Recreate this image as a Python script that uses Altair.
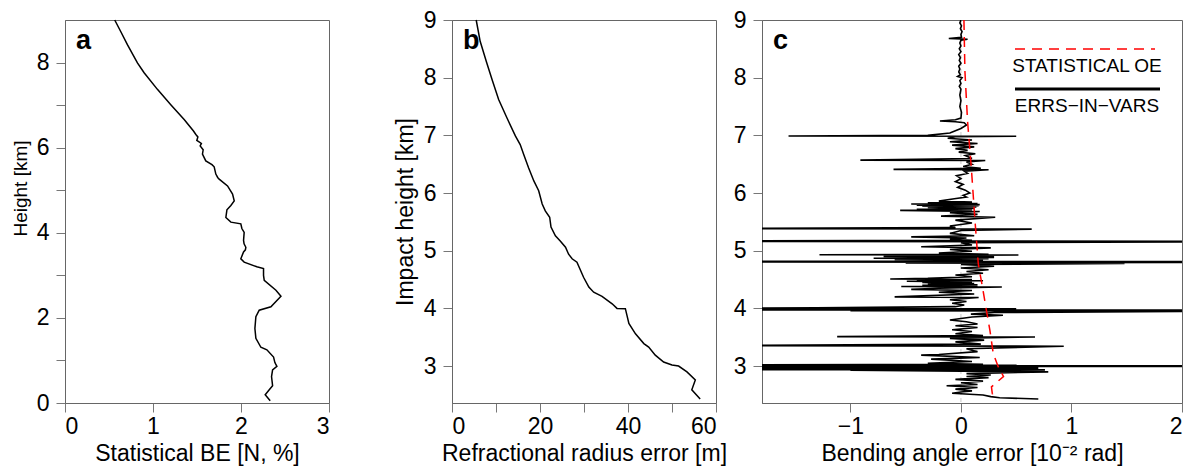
import altair as alt
import pandas as pd

FONT = "Liberation Sans"

# ---------------- Panel a: statistical background error ----------------
a_height = [0.055, 0.195, 0.31, 0.405, 0.62, 0.78, 0.86, 0.95, 1.08, 1.25, 1.31, 1.52,
            1.75, 2.03, 2.18, 2.26, 2.51, 2.65, 2.88, 3.0, 3.16, 3.2, 3.31, 3.39, 3.55,
            3.6, 3.66, 3.74, 3.82, 4.01, 4.1, 4.21, 4.25, 4.36, 4.54, 4.64, 4.75, 4.91,
            5.1, 5.26, 5.3, 5.38, 5.55, 5.6, 5.69, 5.85, 5.95, 6.04, 6.1, 6.17, 6.25,
            6.31, 6.39, 6.66, 7.01, 7.37, 7.76, 7.99, 8.42, 8.73, 9.0]
a_be = [2.332, 2.275, 2.321, 2.359, 2.347, 2.359, 2.408, 2.385, 2.37, 2.294, 2.226, 2.169,
        2.158, 2.169, 2.207, 2.34, 2.454, 2.397, 2.264, 2.256, 2.256, 2.18, 2.036, 1.998,
        2.029, 2.05, 2.055, 2.035, 2.029, 2.036, 2.01, 1.998, 1.885, 1.828, 1.84, 1.885,
        1.923, 1.904, 1.847, 1.752, 1.735, 1.714, 1.695, 1.67, 1.6, 1.562, 1.57, 1.536,
        1.55, 1.498, 1.51, 1.487, 1.46, 1.354, 1.202, 1.05, 0.899, 0.823, 0.709, 0.633, 0.565]

# ---------------- Panel b: refractional radius error ----------------
b_height = [2.43, 2.59, 2.76, 2.90, 3.0, 3.02, 3.07, 3.19, 3.33, 3.39, 3.56, 3.74, 3.995,
            4.0, 4.08, 4.21, 4.28, 4.37, 4.54, 4.80, 4.86, 4.94, 5.06, 5.17, 5.26, 5.41,
            5.58, 5.69, 5.81, 6.04, 6.21, 6.44, 6.67, 6.84, 6.99, 7.30, 7.62, 7.97, 8.28,
            8.63, 9.0]
b_err = [56.4, 54.5, 55.3, 53.4, 51.5, 50.0, 48.1, 46.2, 44.7, 43.6, 41.7, 40.2, 39.4,
         37.5, 36.4, 34.1, 32.2, 31.1, 29.9, 28.4, 27.3, 26.5, 25.8, 24.6, 23.5, 22.5,
         22.2, 21.2, 20.5, 19.7, 18.6, 17.4, 16.3, 15.5, 14.4, 12.5, 10.6, 9.1, 7.8,
         6.4, 5.5]

# ---------------- Panel c: bending angle error (errors-in-variables) ----------------
c_height = [
    9.0, 8.95, 8.9, 8.85, 8.8, 8.75, 8.70, 8.68, 8.665, 8.65,
    8.6, 8.55, 8.5, 8.45, 8.4, 8.35, 8.3, 8.25, 8.2, 8.15,
    8.1, 8.05, 8.02, 8.0, 7.95, 7.9, 7.85, 7.8, 7.7, 7.6,
    7.5, 7.4, 7.3, 7.27, 7.25, 7.235, 7.22, 7.18, 7.12, 7.08,
    7.04, 7.0, 6.99, 6.985, 6.975, 6.95, 6.92, 6.89, 6.86, 6.83,
    6.8, 6.77, 6.74, 6.71, 6.68, 6.65, 6.6, 6.57, 6.565, 6.54,
    6.5, 6.46, 6.43, 6.41, 6.405, 6.38, 6.34, 6.3, 6.25, 6.2,
    6.15, 6.1, 6.05, 6.0, 5.96, 5.93, 5.9, 5.86, 5.845, 5.83,
    5.82, 5.81, 5.8, 5.79, 5.78, 5.77, 5.76, 5.75, 5.735, 5.72,
    5.71, 5.70, 5.68, 5.66, 5.63, 5.6, 5.58, 5.53, 5.48, 5.43,
    5.40, 5.385, 5.375, 5.35, 5.3, 5.26, 5.24, 5.22, 5.2, 5.18,
    5.17, 5.165, 5.16, 5.155, 5.14, 5.1, 5.07, 5.05, 5.02, 4.99,
    4.96, 4.94, 4.93, 4.925, 4.915, 4.91, 4.9, 4.885, 4.87, 4.86,
    4.85, 4.84, 4.83, 4.82, 4.815, 4.81, 4.805, 4.8, 4.79, 4.78,
    4.76, 4.73, 4.7, 4.67, 4.64, 4.61, 4.58, 4.55, 4.52, 4.51,
    4.5, 4.49, 4.48, 4.47, 4.46, 4.45, 4.43, 4.42, 4.41, 4.40,
    4.39, 4.38, 4.37, 4.35, 4.33, 4.31, 4.28, 4.25, 4.2, 4.19,
    4.15, 4.12, 4.09, 4.06, 4.03, 4.01, 4.0, 3.995, 3.99, 3.985,
    3.975, 3.97, 3.96, 3.95, 3.93, 3.9, 3.88, 3.85, 3.8, 3.77,
    3.73, 3.7, 3.67, 3.63, 3.6, 3.56, 3.53, 3.51, 3.505, 3.48,
    3.45, 3.42, 3.38, 3.355, 3.345, 3.3, 3.25, 3.2, 3.19, 3.15,
    3.12, 3.08, 3.05, 3.03, 3.02, 3.015, 3.01, 3.005, 3.0, 2.995,
    2.99, 2.985, 2.98, 2.975, 2.97, 2.965, 2.96, 2.955, 2.95, 2.945,
    2.94, 2.935, 2.93, 2.9, 2.87, 2.845, 2.82, 2.8, 2.77, 2.74,
    2.71, 2.68, 2.66, 2.63, 2.6, 2.57, 2.55, 2.53, 2.5, 2.47,
    2.45, 2.43,
]
c_err = [
    0.0, -0.01, 0.005, -0.005, 0.01, 0.0, 0.005, -0.11, 0.06, 0.0,
    -0.01, 0.0, -0.015, 0.0, -0.02, -0.005, -0.015, 0.0, -0.02, -0.01,
    -0.02, -0.005, -0.03, 0.01, -0.01, 0.0, -0.015, 0.0, -0.01, 0.0,
    -0.01, 0.005, 0.0, -0.05, -0.19, -0.05, 0.03, 0.05, 0.0, -0.05,
    -0.1, -0.3, -1.56, 0.5, -0.05, -0.12, 0.1, -0.1, 0.15, -0.08,
    0.12, -0.05, 0.06, -0.02, 0.13, 0.04, 0.1, -0.91, 0.22, 0.05,
    0.1, 0.02, 0.18, -0.61, 0.25, 0.03, 0.06, -0.04, 0.0, -0.05,
    0.02, -0.03, 0.04, 0.08, 0.02, 0.05, -0.06, -0.2, 0.1, -0.3,
    0.15, -0.45, 0.17, -0.4, 0.16, -0.35, 0.14, -0.3, 0.12, -0.4,
    0.1, -0.55, 0.17, -0.1, 0.15, -0.18, 0.31, -0.05, 0.1, -0.1,
    -0.05, -2.2, 0.64, 0.0, -0.1, 0.12, -0.45, 0.05, -0.1, 0.1,
    -2.2, 2.5, -2.2, 2.3, 0.0, 0.1, -0.36, 0.27, -0.1, 0.1,
    -0.2, 0.25, -1.28, 0.52, -0.5, 0.3, -0.7, 0.3, -0.79, 0.25,
    -0.6, 0.2, -0.5, 0.2, -2.2, 2.5, -2.2, 2.5, -0.5, 1.48,
    0.0, 0.3, 0.0, 0.25, 0.05, 0.2, -0.05, 0.1, -0.3, -0.64,
    0.1, -0.4, 0.2, -0.49, 0.1, -0.35, 0.12, -0.3, 0.15, -0.35,
    0.15, -0.54, 0.37, -0.2, -0.45, 0.1, -0.2, 0.12, -0.6, 0.16,
    -0.1, 0.05, -0.08, 0.03, -0.05, -1.31, -2.2, 0.5, -2.2, -1.3,
    -2.2, 2.5, -1.0, 2.5, 0.3, 0.09, 0.38, 0.1, -0.1, 0.05,
    0.15, -0.05, 0.15, -0.08, 0.1, -0.05, 0.2, -1.12, 0.67, -0.1,
    0.21, -0.05, 0.18, -2.2, 0.93, 0.05, 0.15, -0.2, -0.36, 0.17,
    -0.27, 0.1, -0.3, 0.2, -2.2, 0.5, -2.2, 2.5, -2.2, 2.5,
    -2.2, 0.6, -2.2, 0.7, -2.2, 0.6, -2.2, 0.7, -2.2, 0.65,
    -2.2, 0.76, -1.0, 0.79, 0.05, 0.27, 0.05, 0.25, -0.05, 0.2,
    0.0, 0.15, -0.13, 0.15, -0.05, 0.1, 0.0, -0.08, 0.2, 0.27,
    0.35, 0.70,
]

# ---------------- Panel c: statistical observation error ----------------
oe_height = [9.0, 8.11, 7.24, 6.38, 5.52, 4.77, 4.31, 3.97, 3.62, 3.22, 2.99, 2.82, 2.64,
             2.53, 2.41]
oe_err = [0.027, 0.036, 0.06, 0.096, 0.127, 0.157, 0.2, 0.23, 0.262, 0.292, 0.337, 0.385,
          0.276, 0.283, 0.30]

legend_labels = ["STATISTICAL OE", "ERRS\u2212IN\u2212VARS"]
panel_letters = ["a", "b", "c"]

H = 383
FS = 23
one = pd.DataFrame({"k": [0]})


def letter(t):
    return alt.Chart(pd.DataFrame({"t": [t]})).mark_text(
        font=FONT, fontSize=27, fontWeight="bold", align="left", baseline="alphabetic",
        color="black"
    ).encode(x=alt.value(11), y=alt.value(29), text="t:N")


# ---- panel a
df_a = pd.DataFrame({"v": a_be, "h": a_height, "i": range(len(a_be))})
line_a = alt.Chart(df_a).mark_line(color="black", strokeWidth=1.5).encode(
    x=alt.X("v:Q", scale=alt.Scale(domain=[0, 3], nice=False, zero=False),
            axis=alt.Axis(values=[0, 1, 2, 3], title="Statistical BE [N, %]")),
    y=alt.Y("h:Q", scale=alt.Scale(domain=[0, 9], nice=False),
            axis=alt.Axis(values=list(range(9)),
                          labelExpr="datum.value % 2 == 0 ? datum.label : ''",
                          title="Height [km]", titleFontSize=19, titleY=168)),
    order="i:Q",
)
pa = alt.layer(line_a, letter(panel_letters[0])).properties(width=264, height=H)

# ---- panel b
df_b = pd.DataFrame({"v": b_err, "h": b_height, "i": range(len(b_err))})
line_b = alt.Chart(df_b).mark_line(color="black", strokeWidth=1.5).encode(
    x=alt.X("v:Q", scale=alt.Scale(domain=[0, 60], nice=False),
            axis=alt.Axis(values=[0, 10, 20, 30, 40, 50, 60],
                          labelExpr="datum.value % 20 == 0 ? datum.label : ''",
                          title="Refractional radius error [m]")),
    y=alt.Y("h:Q", scale=alt.Scale(domain=[2.36, 9], nice=False, zero=False),
            axis=alt.Axis(values=[3, 4, 5, 6, 7, 8, 9], format="d",
                          title="Impact height [km]")),
    order="i:Q",
)
pb = alt.layer(line_b, letter(panel_letters[1])).properties(width=264, height=H)

# ---- panel c
df_c = pd.DataFrame({"v": c_err, "h": c_height, "i": range(len(c_err))})
df_oe = pd.DataFrame({"v": oe_err, "h": oe_height, "i": range(len(oe_err))})
xc = alt.X("v:Q", scale=alt.Scale(domain=[-1.8, 2], nice=False),
           axis=alt.Axis(values=[-1, 0, 1, 2], format="d",
                         title="Bending angle error [10\u207b\u00b2 rad]"))
yc = alt.Y("h:Q", scale=alt.Scale(domain=[2.36, 9], nice=False, zero=False),
           axis=alt.Axis(values=[3, 4, 5, 6, 7, 8, 9], format="d", title=None))

zero_rule = alt.Chart(pd.DataFrame({"v": [0]})).mark_rule(
    color="#c8c8c8", strokeDash=[4, 3], strokeWidth=1
).encode(x=alt.X("v:Q"))
line_c = alt.Chart(df_c).mark_line(color="black", strokeWidth=1.6, clip=True).encode(
    x=xc, y=yc, order="i:Q")
line_oe = alt.Chart(df_oe).mark_line(color="#ff0000", strokeWidth=1.5,
                                     strokeDash=[10, 7]).encode(
    x=alt.X("v:Q"), y=alt.Y("h:Q"), order="i:Q")

leg_red = alt.Chart(one).mark_rule(color="#ff0000", strokeWidth=1.5, strokeDash=[10, 7]).encode(
    x=alt.value(253), x2=alt.value(393), y=alt.value(29))
leg_black = alt.Chart(one).mark_rule(color="black", strokeWidth=3).encode(
    x=alt.value(253), x2=alt.value(398), y=alt.value(69))
leg_t1 = alt.Chart(pd.DataFrame({"t": [legend_labels[0]]})).mark_text(
    font=FONT, fontSize=19, color="black", align="center", baseline="middle"
).encode(x=alt.value(325), y=alt.value(46), text="t:N")
leg_t2 = alt.Chart(pd.DataFrame({"t": [legend_labels[1]]})).mark_text(
    font=FONT, fontSize=19, color="black", align="center", baseline="middle"
).encode(x=alt.value(325), y=alt.value(86), text="t:N")

pc = alt.layer(zero_rule, line_c, line_oe, leg_red, leg_black, leg_t1, leg_t2,
               letter(panel_letters[2])).properties(width=420, height=H)

chart = alt.hconcat(
    pa, alt.hconcat(pb, pc, spacing=4), spacing=63
).configure(
    font=FONT, padding={"left": 2, "top": 0, "right": 0, "bottom": 0}
).configure_view(
    stroke="#666666", strokeWidth=1
).configure_axis(
    domainColor="#666666", tickColor="#777777", tickSize=9, labelFontSize=FS,
    titleFontSize=FS, labelColor="black", titleColor="black", titleFontWeight="normal",
    labelFont=FONT, titleFont=FONT, grid=False, labelPadding=3, titlePadding=4,
).configure_axisY(labelPadding=7, titlePadding=6)

chart.save("out.html", embed_options={"renderer": "svg", "actions": False})
